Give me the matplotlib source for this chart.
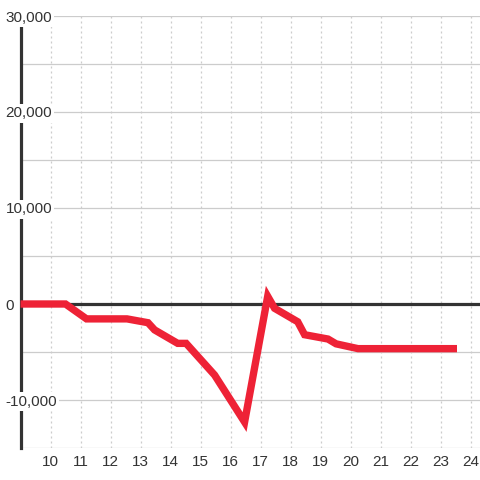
import matplotlib
matplotlib.use("Agg")
import matplotlib.pyplot as plt
from matplotlib.ticker import FixedLocator

# Data (hour of day, value)
hours = [9.0, 10.5, 11.2, 12.55, 13.25, 13.47, 14.24, 14.52, 15.47, 16.47,
         17.24, 17.47, 18.24, 18.47, 19.25, 19.52, 20.25, 23.55]
values = [0, 0, -1550, -1550, -1950, -2700, -4100, -4100, -7400, -12300,
          800, -450, -1850, -3200, -3650, -4150, -4650, -4650]

x_ticks = list(range(10, 25))
y_grid = list(range(-15000, 30001, 5000))
y_labels = [-10000, 0, 10000, 20000, 30000]

plt.rcParams['font.family'] = ['Liberation Sans', 'DejaVu Sans']

fig = plt.figure(figsize=(4.8, 4.8), dpi=100)
ax = fig.add_axes([20.5 / 480, 32 / 480, (480 - 20.5) / 480, (464 - 32) / 480])
ax.set_xlim(9.0, 9.0 + (480 - 20.5) / 30.0)
ax.set_ylim(-15000, 30000)

# grid
for yv in y_grid:
    ax.axhline(yv, color='#cccccc', lw=0.9, zorder=1)
for xv in x_ticks:
    ax.axvline(xv, color='#cccccc', lw=0.9, ls=(0, (1.6, 2.4)), zorder=1)

# zero line
ax.axhline(0, color='#333333', lw=2.3, zorder=2)

# data line
ax.plot(hours, values, color='#ee2236', lw=5.3, solid_joinstyle='miter',
        solid_capstyle='butt', zorder=4, clip_on=False)

for s in ['top', 'right', 'bottom']:
    ax.spines[s].set_visible(False)
ax.spines['left'].set_color('#333333')
ax.spines['left'].set_linewidth(2.3)
ax.spines['left'].set_zorder(3)

ax.set_yticks([])
ax.xaxis.set_major_locator(FixedLocator(x_ticks))
ax.set_xticklabels([str(v) for v in x_ticks])
ax.tick_params(axis='x', length=0, pad=5, labelsize=11, labelcolor='#333333')

trans = ax.get_yaxis_transform()
for yv in y_labels:
    ax.text(-15 / 460, yv, f"{yv:,}", transform=trans, ha='left', va='center_baseline',
            fontsize=11, color='#333333', zorder=10, clip_on=False,
            bbox=dict(boxstyle='square,pad=0.15', fc='white', ec='none'))

fig.savefig('out.png', dpi=100)
